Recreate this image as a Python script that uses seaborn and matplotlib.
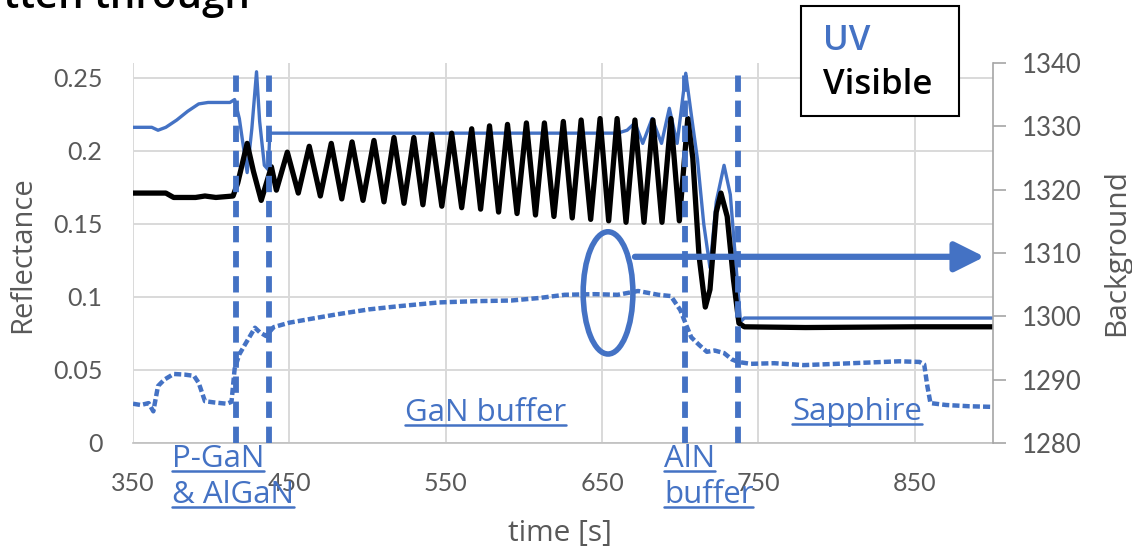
import matplotlib
matplotlib.use("Agg")
import matplotlib.pyplot as plt
import seaborn as sns
import pandas as pd
from matplotlib.patches import Ellipse, Rectangle
from matplotlib.lines import Line2D

# ---------------- data ----------------
uv_t = [350, 362, 366, 371, 378, 385, 392, 398, 405, 412, 415, 418, 423, 426, 429, 431,
        434, 436.5, 437.5, 660, 666, 671, 676, 682, 688, 693, 698, 703.5, 707, 711, 715,
        719, 723, 728, 732, 735, 738.5, 741, 900]
uv_v = [0.216, 0.216, 0.214, 0.216, 0.221, 0.227, 0.232, 0.233, 0.233, 0.233, 0.235, 0.222,
        0.185, 0.215, 0.254, 0.22, 0.19, 0.187, 0.212, 0.212, 0.214, 0.219, 0.205, 0.222,
        0.205, 0.229, 0.205, 0.253, 0.225, 0.194, 0.15, 0.12, 0.165, 0.19, 0.17, 0.13,
        0.083, 0.0855, 0.0855]

vis_t = [350, 371, 376, 390, 396, 403, 414, 417, 423, 427, 432, 438.5, 441.7,
         448.7, 455.7, 462.7, 469.8, 476.8, 483.5, 490.1, 497.1, 504.1, 510.5, 516.9,
         523.3, 529.6, 535.4, 541.1, 547.5, 553.8, 560.2, 566.6, 572.3, 578.0, 583.8,
         589.5, 595.6, 601.6, 607.4, 613.1, 619.2, 625.2, 630.9, 636.6, 642.7, 648.7,
         654.2, 659.6, 665.3, 671.0, 676.8, 682.5, 688.3, 694.0, 699.4, 704.8,
         708, 712, 716, 719, 723, 726, 730, 734, 737.5, 741, 780, 850, 900]
vis_v = [0.171, 0.171, 0.168, 0.168, 0.169, 0.168, 0.169, 0.178, 0.205, 0.186, 0.166, 0.189, 0.173,
         0.199, 0.171, 0.203, 0.169, 0.205, 0.167, 0.206, 0.166, 0.207, 0.165, 0.209,
         0.164, 0.209, 0.163, 0.211, 0.162, 0.212, 0.161, 0.215, 0.160, 0.217, 0.158,
         0.218, 0.157, 0.219, 0.156, 0.219, 0.155, 0.220, 0.154, 0.221, 0.153, 0.222,
         0.152, 0.222, 0.151, 0.221, 0.151, 0.221, 0.151, 0.222, 0.152, 0.222,
         0.195, 0.128, 0.093, 0.105, 0.158, 0.171, 0.155, 0.112, 0.082, 0.0795, 0.079, 0.0795, 0.0795]

bg_t = [350, 355, 360, 363, 366, 370, 376, 383, 389, 392, 396, 402, 410, 413, 415, 418,
        422, 428, 431, 435, 440, 450, 466, 480, 501, 520, 546, 570, 592, 610, 626, 645,
        660, 673, 686, 694, 700, 704, 707, 712, 717, 722, 728, 733, 737, 745, 760, 779,
        800, 820, 840, 853, 856, 858, 860, 870, 885, 900]
bg_v = [1286.2, 1286.0, 1286.3, 1285.0, 1289.0, 1290.0, 1290.9, 1290.8, 1290.6, 1289.5,
        1286.6, 1286.4, 1286.2, 1286.5, 1291.7, 1294.0, 1295.7, 1298.2, 1297.5, 1296.9,
        1298.3, 1299.0, 1299.7, 1300.3, 1301.1, 1301.6, 1302.2, 1302.4, 1302.5, 1302.9,
        1303.4, 1303.5, 1303.4, 1304.0, 1303.4, 1303.2, 1301.0, 1298.5, 1296.7, 1295.5,
        1294.4, 1294.6, 1294.2, 1293.2, 1292.8, 1292.5, 1292.6, 1292.3, 1292.5, 1292.7,
        1292.9, 1292.8, 1292.4, 1289.0, 1286.3, 1286.0, 1285.8, 1285.7]

x_ticks = [350, 450, 550, 650, 750, 850]
left_ticks = [0, 0.05, 0.1, 0.15, 0.2, 0.25]
left_labels = ["0", "0.05", "0.1", "0.15", "0.2", "0.25"]
right_ticks = [1280, 1290, 1300, 1310, 1320, 1330, 1340]
phase_lines = [416, 437, 703, 737]

# ---------------- style ----------------
sns.set_theme(style="white")
plt.rcParams["font.family"] = ["Open Sans", "DejaVu Sans"]

BLUE = "#4472C4"
GRAY = "#595959"
GRID = "#D9D9D9"

W, H = 1132, 551
fig = plt.figure(figsize=(W / 100, H / 100), dpi=100)
ax = fig.add_axes([133 / W, 1 - 443 / H, (993 - 133) / W, (443 - 63) / H])
ax2 = ax.twinx()

uv_df = pd.DataFrame({"t": uv_t, "v": uv_v})
vis_df = pd.DataFrame({"t": vis_t, "v": vis_v})
bg_df = pd.DataFrame({"t": bg_t, "v": bg_v})

sns.lineplot(data=uv_df, x="t", y="v", ax=ax, color=BLUE, linewidth=2.4, estimator=None, zorder=3)
sns.lineplot(data=vis_df, x="t", y="v", ax=ax, color="black", linewidth=3.8, estimator=None, zorder=4)
sns.lineplot(data=bg_df, x="t", y="v", ax=ax2, color=BLUE, linewidth=3.2, estimator=None,
             linestyle=(0, (1.6, 0.7)), zorder=3)

ax.set_xlim(350, 900)
ax.set_ylim(0, 0.26)
ax2.set_ylim(1280, 1340)

ax.set_xticks(x_ticks)
ax.set_yticks(left_ticks)
ax.set_yticklabels(left_labels)
ax2.set_yticks(right_ticks)

ax.grid(True, color=GRID, linewidth=1.4)
ax.set_axisbelow(True)
ax2.grid(False)

for s in ["top", "left", "right"]:
    ax.spines[s].set_visible(False)
ax.spines["bottom"].set_color("#BFBFBF")
ax.spines["bottom"].set_linewidth(1.2)
for s in ["top", "left", "bottom"]:
    ax2.spines[s].set_visible(False)
ax2.spines["right"].set_visible(True)
ax2.spines["right"].set_color("#A6A6A6")
ax2.spines["right"].set_linewidth(1.2)

ax.tick_params(axis="x", length=0, pad=21, labelsize=18, labelcolor=GRAY, labelfontfamily="Lato")
ax.tick_params(axis="y", length=0, pad=22, labelsize=18, labelcolor=GRAY, labelfontfamily="Lato")
ax2.tick_params(axis="y", right=True, length=9, width=1.2, color="#A6A6A6", pad=12,
                labelsize=18.5, labelcolor=GRAY, labelfontfamily="Lato")

ax.set_xlabel("time [s]", fontsize=21.5, color=GRAY)
ax.set_ylabel("Reflectance", fontsize=21, color=GRAY)
ax2.set_ylabel("Background", fontsize=21.5, color=GRAY)
ax.xaxis.set_label_coords((560 - 133) / 860, (443 - 533) / 380)
ax.yaxis.set_label_coords((23 - 133) / 860, (443 - 255) / 380)
ax2.yaxis.set_label_coords((1117 - 133) / 860, (443 - 253) / 380)
for lab in [ax.xaxis.label, ax.yaxis.label, ax2.yaxis.label]:
    lab.set_verticalalignment("center")
    lab.set_horizontalalignment("center")

# phase boundaries
for xv in phase_lines:
    ax2.axvline(xv, ymin=0, ymax=0.976, color=BLUE, linewidth=4.2,
                linestyle=(0, (2.8, 1.5)), zorder=6)

# ellipse + arrow
ax2.add_patch(Ellipse((653.8, 1303.7), 31.8, 19.3, fill=False, edgecolor=BLUE, linewidth=4.0, zorder=7))
ax2.annotate("", xy=(894.6, 1309.4), xytext=(671, 1309.4),
             arrowprops=dict(arrowstyle="-|>,head_length=0.9,head_width=0.45", color=BLUE,
                             lw=4.5, mutation_scale=20, shrinkA=0, shrinkB=0), zorder=7)

# title (cut off at the top edge, as in the reference)
fig.text(250 / W, 1 - 8 / H, "written through", ha="right", va="baseline", fontsize=29,
         fontweight="semibold", color="black")

# legend box
fig.add_artist(Rectangle((801 / W, 1 - 116 / H), 158 / W, 110 / H, transform=fig.transFigure,
                         facecolor="white", edgecolor="black", linewidth=1.5, zorder=10))
fig.text(823 / W, 1 - 50 / H, "UV", color=BLUE, fontsize=25, fontweight="semibold",
         va="baseline", ha="left", zorder=11)
fig.text(823 / W, 1 - 94 / H, "Visible", color="black", fontsize=25, fontweight="semibold",
         va="baseline", ha="left", zorder=11)

# underlined region labels
labels = [("GaN buffer", 405, 421), ("Sapphire", 792, 420),
          ("P-GaN", 172, 467), ("& AlGaN", 172, 503),
          ("AlN", 664, 467), ("buffer", 664, 503)]
texts = []
for txt, x, y in labels:
    t = fig.text(x / W, 1 - y / H, txt, color=BLUE, fontsize=22.5, ha="left", va="baseline", zorder=12)
    texts.append((t, y))

fig.canvas.draw()
r = fig.canvas.get_renderer()
for t, y in texts:
    bb = t.get_window_extent(r)
    yy = 1 - (y + 4) / H
    fig.add_artist(Line2D([bb.x0 / W, bb.x1 / W], [yy, yy], transform=fig.transFigure,
                          color=BLUE, linewidth=1.8, zorder=12))

fig.savefig("out.png", dpi=100)
